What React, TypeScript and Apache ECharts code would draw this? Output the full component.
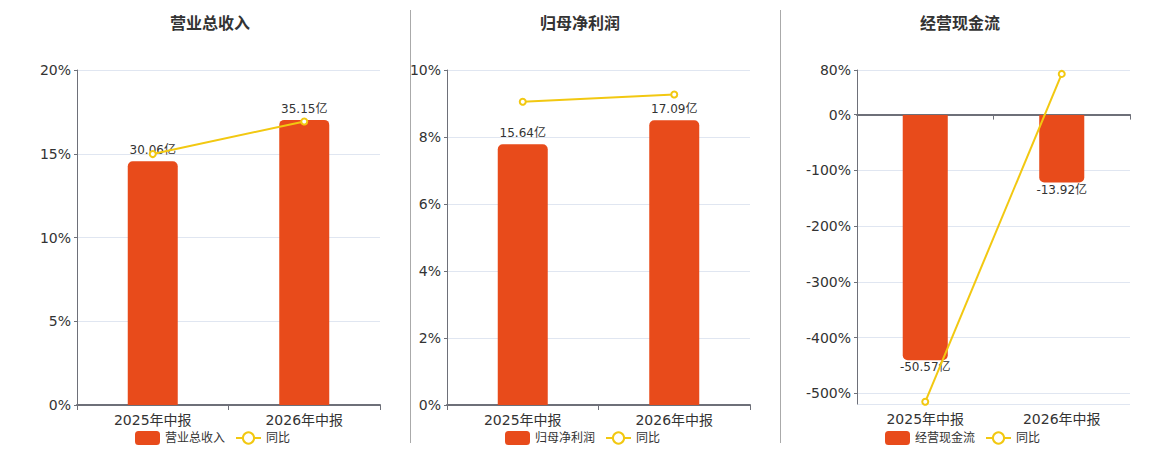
import React, { useEffect, useRef } from "react";
import * as echarts from "echarts";

const categories = ["2025年中报", "2026年中报"];
const titles = ["营业总收入", "归母净利润", "经营现金流"];
const revenue = [30.06, 35.15];
const revenueYoy = [14.98, 16.93];
const netProfit = [15.64, 17.09];
const netProfitYoy = [9.05, 9.27];
const cashFlow = [-50.57, -13.92];
const cashFlowYoy = [-515, 73];
const barAxisRanges = [
  [0, 41.3],
  [0, 20.1],
  [-59.6, 9.3],
];
const pctAxisRanges = [
  [0, 20, 5],
  [0, 10, 2],
  [-519, 80, null],
];

const FONT = "DejaVu Sans, Noto Sans CJK SC, sans-serif";
const BAR = "#E84B1B";
const LINE = "#F2C811";

const grids = [
  { left: 77, top: 70, width: 303, height: 335 },
  { left: 447, top: 70, width: 303, height: 335 },
  { left: 857, top: 70, width: 273, height: 334 },
];
const centers = [210, 580, 960];
const legendLefts = [130, 500, 880];

export default function App() {
  const ref = useRef<HTMLDivElement>(null);
  useEffect(() => {
    if (!ref.current) return;
    const chart = echarts.init(ref.current, undefined, { renderer: "svg" });
    const bars = [revenue, netProfit, cashFlow];
    const yoys = [revenueYoy, netProfitYoy, cashFlowYoy];

    const xAxis: any[] = [];
    const yAxis: any[] = [];
    const series: any[] = [];
    const legend: any[] = [];
    const graphic: any[] = [];

    grids.forEach((g, i) => {
      xAxis.push({
        type: "category",
        gridIndex: i,
        data: categories,
        axisLine: { onZero: true, onZeroAxisIndex: i * 2, lineStyle: { color: "#6E7079", width: 2 } },
        axisTick: { show: true, alignWithLabel: false, length: 5, lineStyle: { color: "#6E7079" } },
        axisLabel: { color: "#333", fontSize: 14, fontFamily: FONT, margin: 8 },
        splitLine: { show: false },
      });
      const [pmin, pmax, pint] = pctAxisRanges[i];
      const pAxis: any = {
        type: "value",
        gridIndex: i,
        min: pmin,
        max: pmax,
        axisLine: { show: true, lineStyle: { color: "#6E7079", width: 1 } },
        axisTick: { show: true, length: 3, lineStyle: { color: "#6E7079" } },
        axisLabel: {
          color: "#333",
          fontSize: 14,
          fontFamily: FONT,
          margin: 6,
          formatter: (v: number) => `${v}%`,
          showMinLabel: i === 2 ? false : true,
        },
        splitLine: { show: true, lineStyle: { color: "#E0E6F1" } },
      };
      if (pint !== null) pAxis.interval = pint;
      else pAxis.splitNumber = 6;
      yAxis.push(pAxis);
      yAxis.push({
        type: "value",
        gridIndex: i,
        min: barAxisRanges[i][0],
        max: barAxisRanges[i][1],
        show: false,
        splitLine: { show: false },
      });
      series.push({
        type: "bar",
        name: titles[i],
        xAxisIndex: i,
        yAxisIndex: i * 2 + 1,
        barWidth: "33%",
        itemStyle: { color: BAR },
        data: bars[i].map((v) => ({
          value: v,
          itemStyle: { borderRadius: v < 0 ? [0, 0, 5, 5] : [5, 5, 0, 0] },
          label: { position: v < 0 ? "bottom" : "top", distance: v < 0 ? 1 : 5 },
        })),
        label: {
          show: true,
          color: "#333",
          fontSize: 12,
          fontFamily: FONT,
          formatter: (p: any) => `${Number(p.value).toFixed(2)}亿`,
        },
        z: 2,
      });
      series.push({
        type: "line",
        name: "同比",
        xAxisIndex: i,
        yAxisIndex: i * 2,
        data: yoys[i],
        symbol: "emptyCircle",
        symbolSize: 6,
        lineStyle: { color: LINE, width: 2 },
        itemStyle: { color: LINE, borderWidth: 2 },
        z: 5,
      });
      legend.push({
        left: legendLefts[i],
        top: 426,
        itemWidth: 25,
        itemHeight: 14,
        itemGap: 10,
        data: [titles[i], "同比"],
        textStyle: { color: "#333", fontSize: 12, fontFamily: FONT },
      });
      graphic.push({
        type: "text",
        x: centers[i],
        y: 23,
        style: {
          text: titles[i],
          fill: "#333",
          fontSize: 16,
          fontWeight: "bold",
          fontFamily: FONT,
          align: "center",
          verticalAlign: "middle",
        },
      });
    });
    [410.5, 780.5].forEach((x) =>
      graphic.push({
        type: "line",
        shape: { x1: x, y1: 10, x2: x, y2: 443 },
        style: { stroke: "#aaa", lineWidth: 1 },
      })
    );

    chart.setOption({
      animation: false,
      grid: grids.map((g) => ({ ...g, containLabel: false })),
      xAxis,
      yAxis,
      series,
      legend,
      graphic,
    });
    return () => chart.dispose();
  }, []);
  return (
    <div
      ref={ref}
      style={{ position: "absolute", left: 0, top: 0, width: 1160, height: 450, background: "#fff" }}
    />
  );
}
